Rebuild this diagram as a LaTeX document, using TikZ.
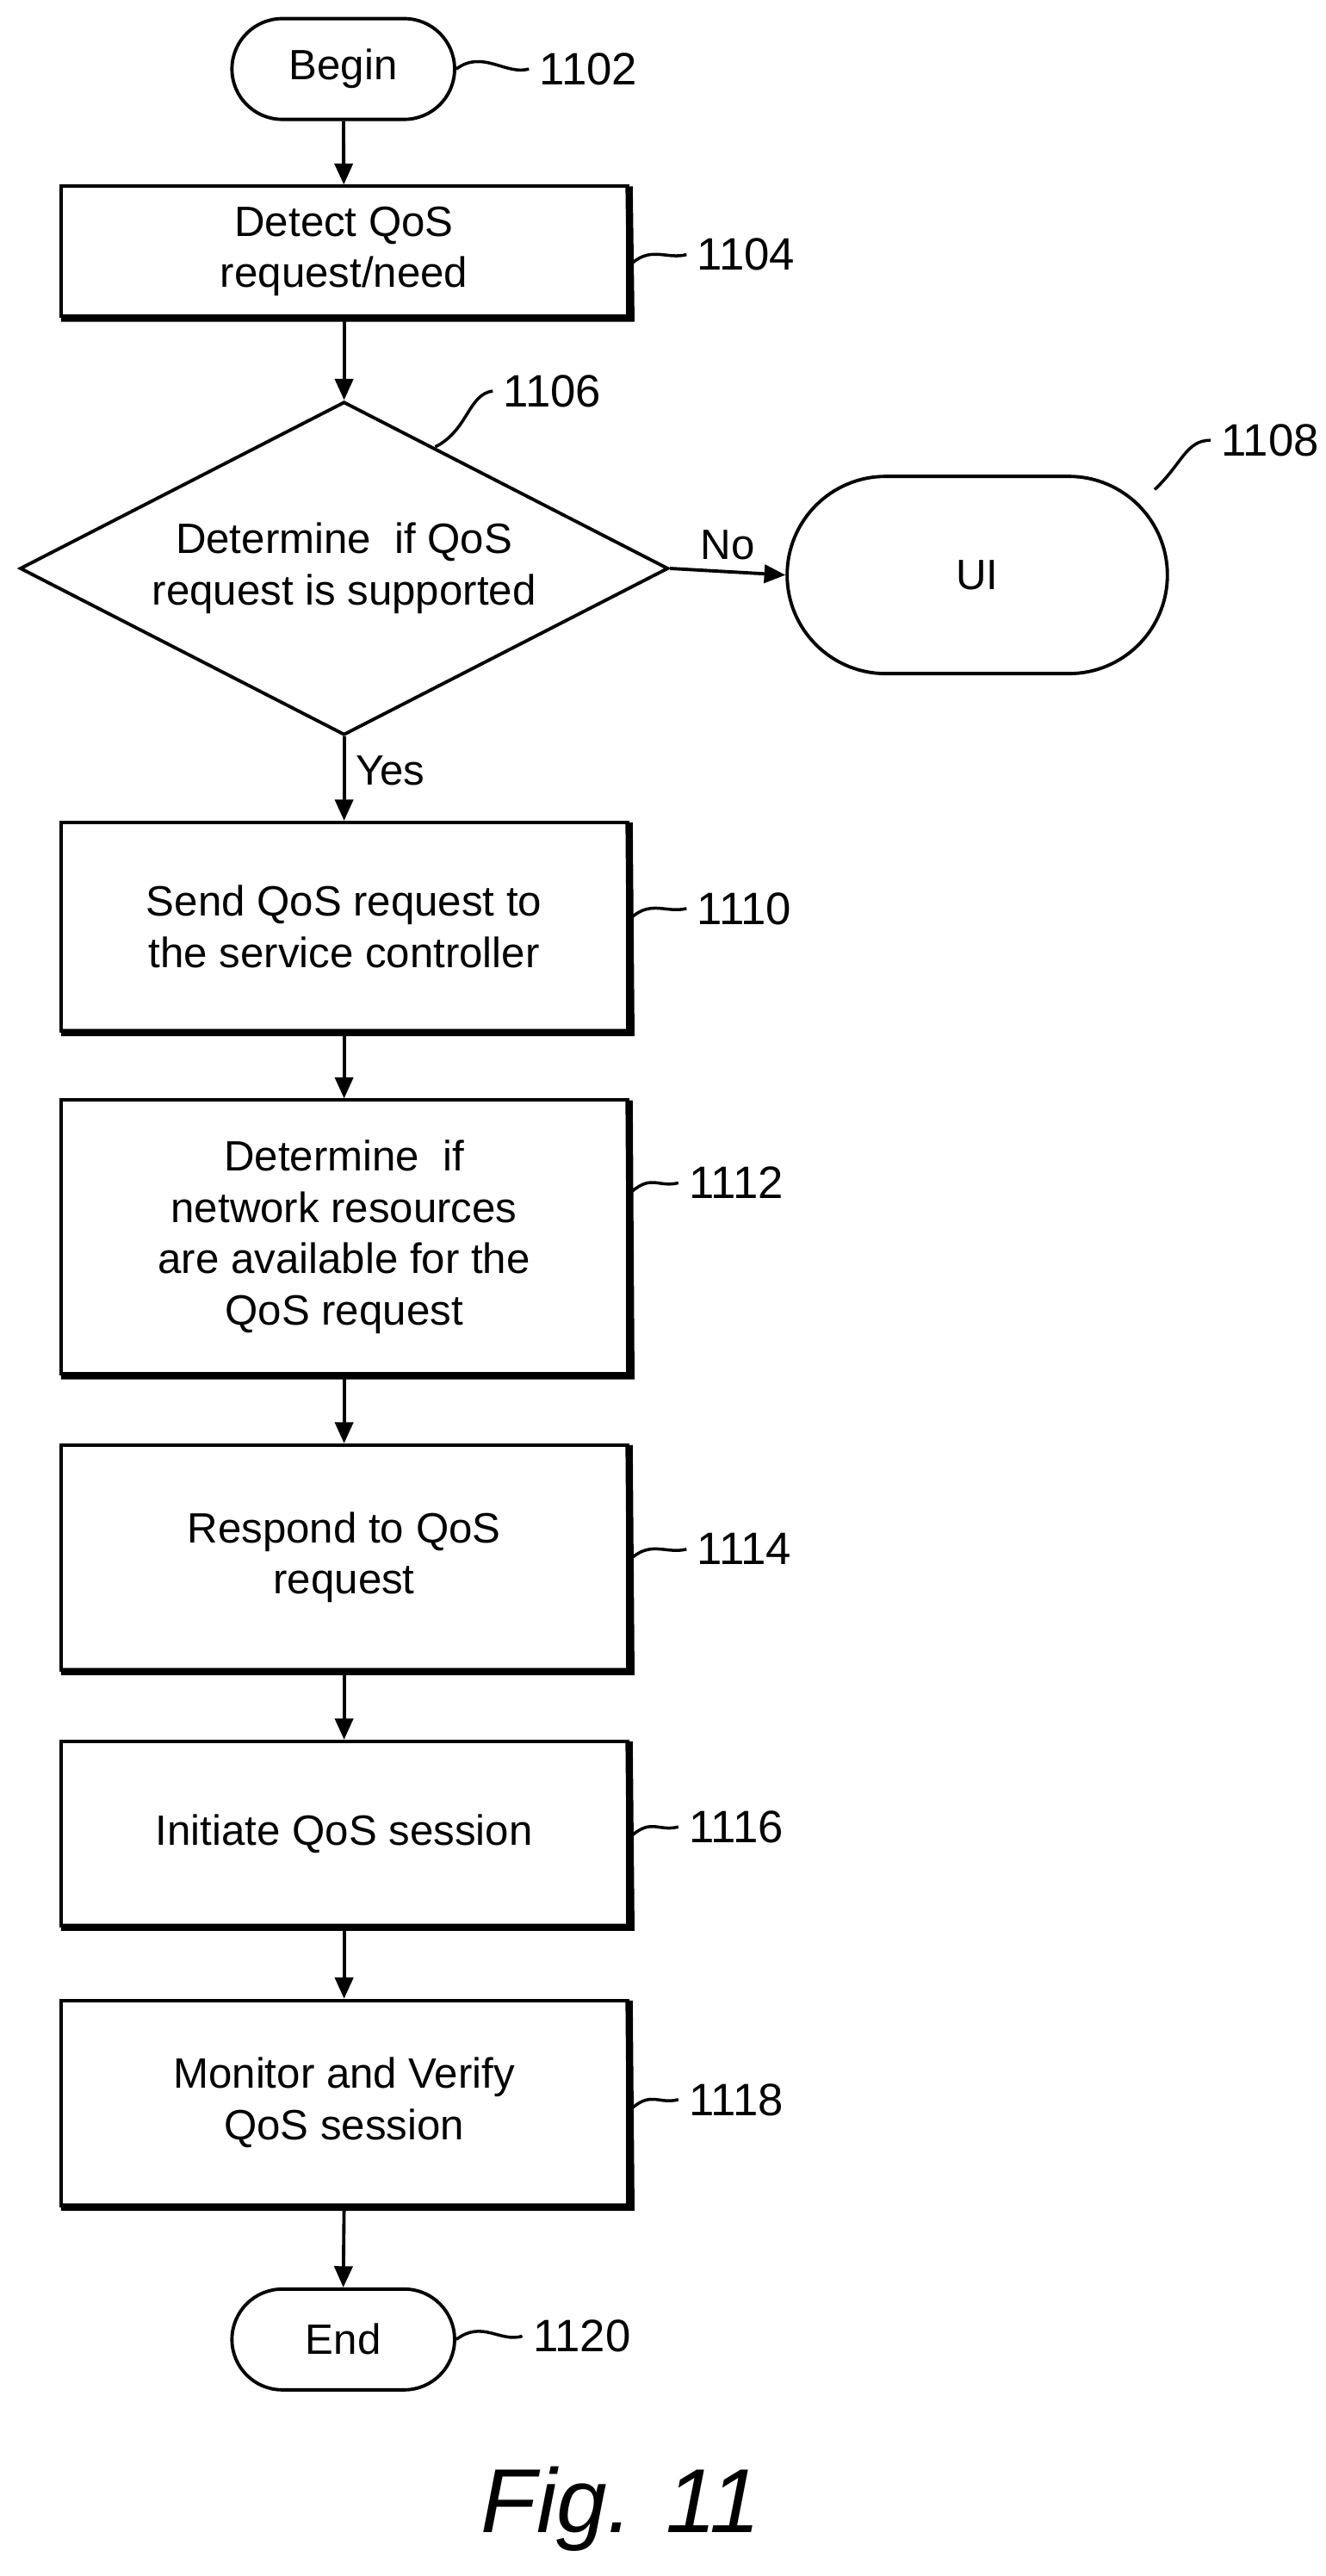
\documentclass[tikz,border=0pt]{standalone}
\usepackage{fontspec}
\setmainfont{Liberation Sans}
\usetikzlibrary{shapes.geometric, shapes.misc, arrows.meta, positioning}
\tikzset{
  proc/.style={rectangle, draw=black, line width=1.1pt, minimum width=6.58cm, align=center, font=\fontsize{14}{17}\selectfont},
  term/.style={rounded rectangle, draw=black, line width=1.1pt, minimum width=2.82cm, minimum height=1.17cm, font=\fontsize{14}{17}\selectfont},
  ref/.style={font=\fontsize{15}{18}\selectfont, anchor=west},
  lead/.style={line width=1pt},
  arrow/.style={line width=1.1pt, -{Triangle[length=7pt, width=6pt]}}
}
\begin{document}
\begin{tikzpicture}[x=0.01907cm, y=-0.01907cm]
\useasboundingbox (0,0) rectangle (807,1568);

% Flow nodes
\node[term] (begin) at (209,42) {Begin};
\node[proc, minimum height=1.51cm] (detect) at (209.5,153) {Detect QoS\\request/need};
\node[diamond, draw=black, line width=1.1pt, minimum width=7.53cm, minimum height=3.87cm, inner sep=0pt] (check) at (209.5,346) {};
\node[align=center, font=\fontsize{14}{17}\selectfont] (checktext) at (check.center) {Determine\ \ if QoS\\request is supported};
\node[term, minimum width=4.65cm, minimum height=2.29cm] (ui) at (595,350) {UI};
\node[proc, minimum height=2.42cm] (send) at (209.5,564) {Send QoS request to\\the service controller};
\node[proc, minimum height=3.18cm] (avail) at (209.5,753) {Determine\ \ if\\network resources\\are available for the\\QoS request};
\node[proc, minimum height=2.61cm] (respond) at (209.5,948) {Respond to QoS\\request};
\node[proc, minimum height=2.14cm] (init) at (209.5,1116) {Initiate QoS session};
\node[proc, minimum height=2.38cm] (monitor) at (209.5,1280) {Monitor and Verify\\QoS session};
\node[term] (end) at (209,1424) {End};

% Shadows on proc boxes
\foreach \n in {detect,send,avail,respond,init,monitor}
  \draw[line width=2.4pt] ([yshift=-0.6pt]\n.north east) -- ([xshift=0.6pt]\n.south east) -- ([xshift=0.6pt]\n.south west);

% Connectors
\draw[arrow] (begin) -- (detect);
\draw[arrow] (detect.south -| check.north) -- (check.north);
\draw[arrow] (check.east) -- node[above, font=\fontsize{14}{17}\selectfont] {No} (ui.west);
\draw[arrow] (check.south) -- node[right, pos=0.4, font=\fontsize{14}{17}\selectfont] {Yes} (check.south |- send.north);
\draw[arrow] (check.south |- send.south) -- (check.south |- avail.north);
\draw[arrow] (check.south |- avail.south) -- (check.south |- respond.north);
\draw[arrow] (check.south |- respond.south) -- (check.south |- init.north);
\draw[arrow] (check.south |- init.south) -- (check.south |- monitor.north);
\draw[arrow] (check.south |- monitor.south) -- (end.north);

% Reference numerals
\node[ref] (r1102) at (322,42) {1102};
\node[ref] (r1104) at (418,155) {1104};
\node[ref] (r1106) at (300,238) {1106};
\node[ref] (r1108) at (737,268) {1108};
\node[ref] (r1110) at (418,553) {1110};
\node[ref] (r1112) at (413,720) {1112};
\node[ref] (r1114) at (418,943) {1114};
\node[ref] (r1116) at (413,1112) {1116};
\node[ref] (r1118) at (413,1278) {1118};
\node[ref] (r1120) at (318,1422) {1120};

\draw[lead] (begin.east) .. controls +(16,-12) and +(-14,4) .. (r1102.west);
\draw[lead] (detect.east |- r1104.west) ++(2,5) .. controls +(12,-10) and +(-12,3) .. (r1104.west);
\draw[lead] (265,272) .. controls (285,262) and (285,240) .. (r1106.west);
\draw[lead] (703,298) .. controls (720,282) and (722,268) .. (r1108.west);
\foreach \b/\r in {send/r1110, avail/r1112, respond/r1114, init/r1116, monitor/r1118}
  \draw[lead] (\b.east |- \r.west) ++(2,5) .. controls +(12,-10) and +(-12,3) .. (\r.west);
\draw[lead] (end.east) .. controls +(16,-12) and +(-14,4) .. (r1120.west);

\node[font=\fontsize{30}{36}\selectfont\itshape] (fig) at (378,1527) {Fig. 11};
\end{tikzpicture}
\end{document}
